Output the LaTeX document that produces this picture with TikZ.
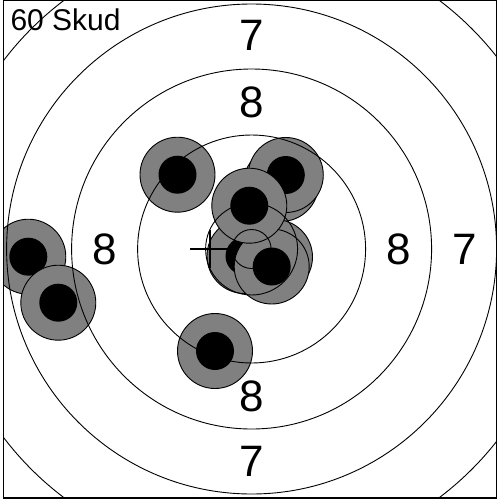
\documentclass[tikz,border=0pt]{standalone}
\usepackage{fontspec}
\setmainfont{Liberation Sans}
\definecolor{shotgray}{HTML}{808080}
\begin{document}
\begin{tikzpicture}[x=1pt,y=-1pt,
  ring/.style={draw=black, line width=0.9pt},
  shotouter/.style={fill=shotgray, draw=black, line width=0.9pt},
  shotinner/.style={fill=black},
  lbl/.style={font=\fontsize{44}{44}\selectfont, inner sep=0pt},
  frame/.style={draw=black, line width=1.4pt}]
\useasboundingbox (0,0) rectangle (497,499);
\fill[white] (0,0) rectangle (497,499);
\coordinate (ctr) at (251.6,249);
\begin{scope}
\clip (3.3,0.7) rectangle (496.3,497.8);
% shots: gray disc with outline, black centre
\foreach \sx/\sy in {177.5/174.7, 281/184, 285.8/175, 275/257, 244.5/256, 271.7/266.5, 249.3/205.7, 28.3/256.7, 58.3/302.7, 215/351}{
  \filldraw[shotouter] (\sx,\sy) circle[radius=37.5];
  \fill[shotinner] (\sx,\sy) circle[radius=19];
}
% target rings
\foreach \r in {19.5,46,114,180,245,311.5}{
  \draw[ring] (ctr) circle[radius=\r];
}
\end{scope}
% cross
\draw[line width=2pt] (190,249) -- (229,249);
\draw[line width=2pt] (209.5,230) -- (209.5,268);
% labels
\node[lbl] (t7top) at (251.6,35.8) {7};
\node[lbl] (t8top) at (251.6,102.8) {8};
\node[lbl] (t8left) at (105,249.2) {8};
\node[lbl] (t8right) at (398.4,249.2) {8};
\node[lbl] (t7right) at (465,249.2) {7};
\node[lbl] (t8bot) at (251.6,396.7) {8};
\node[lbl] (t7bot) at (251.6,461.7) {7};
\node[font=\fontsize{30}{30}\selectfont, inner sep=0pt, anchor=base west] (title) at (10.3,30.7) {60 Skud};
% frame
\draw[frame] (3.3,0.7) rectangle (496.3,497.8);
\end{tikzpicture}
\end{document}
